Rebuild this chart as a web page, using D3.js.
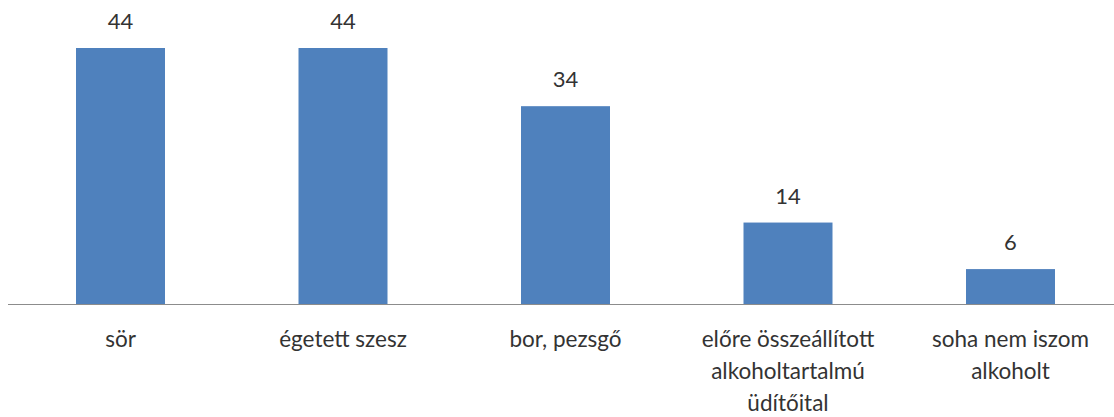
<!DOCTYPE html>
<html>
<head>
<meta charset="utf-8">
<script src="https://cdn.jsdelivr.net/npm/d3@7"></script>
<style>
  body { margin: 0; background: #fff; }
  text { font-family: Lato, "Open Sans", sans-serif; fill: #333; }
</style>
</head>
<body>
<div id="chart"></div>
<script>
let categories = ["sör", "égetett szesz", "bor, pezsgő", "előre összeállított alkoholtartalmú üdítőital", "soha nem iszom alkoholt"];
let labelLines = [["sör"], ["égetett szesz"], ["bor, pezsgő"], ["előre összeállított", "alkoholtartalmú", "üdítőital"], ["soha nem iszom", "alkoholt"]];
let values = [44, 44, 34, 14, 6];

let width = 1114, height = 417;
let baseline = 304;

let svg = d3.select("#chart")
.append("svg")
.attr("width", width)
.attr("height", height);

let x = d3.scaleBand()
.domain(categories)
.range([9.25, 1121.75])
.paddingInner(0.6)
.paddingOuter(0.3);

let y = d3.scaleLinear()
.domain([0, 44])
.range([baseline, 48]);

svg.selectAll("rect")
.data(values)
.enter()
.append("rect")
.attr("x", (d, i) => x(categories[i]))
.attr("y", d => y(d))
.attr("width", x.bandwidth())
.attr("height", d => baseline - y(d))
.attr("fill", "#4f81bd");

svg.append("line")
.attr("x1", 8)
.attr("x2", width)
.attr("y1", baseline + 0.5)
.attr("y2", baseline + 0.5)
.attr("stroke", "#8c8c8c")
.attr("stroke-width", 1);

svg.selectAll(".value")
.data(values)
.enter()
.append("text")
.attr("class", "value")
.attr("x", (d, i) => x(categories[i]) + x.bandwidth() / 2)
.attr("y", d => y(d) - 19)
.attr("text-anchor", "middle")
.attr("font-size", 22)
.text(d => d);

let cat = svg.selectAll(".cat")
.data(labelLines)
.enter()
.append("text")
.attr("class", "cat")
.attr("text-anchor", "middle")
.attr("font-size", 22.5)
.attr("transform", (d, i) => `translate(${x(categories[i]) + x.bandwidth() / 2},347)`);

cat.selectAll("tspan")
.data(d => d)
.enter()
.append("tspan")
.attr("x", 0)
.attr("y", (d, i) => i * 32)
.text(d => d);
</script>
</body>
</html>
